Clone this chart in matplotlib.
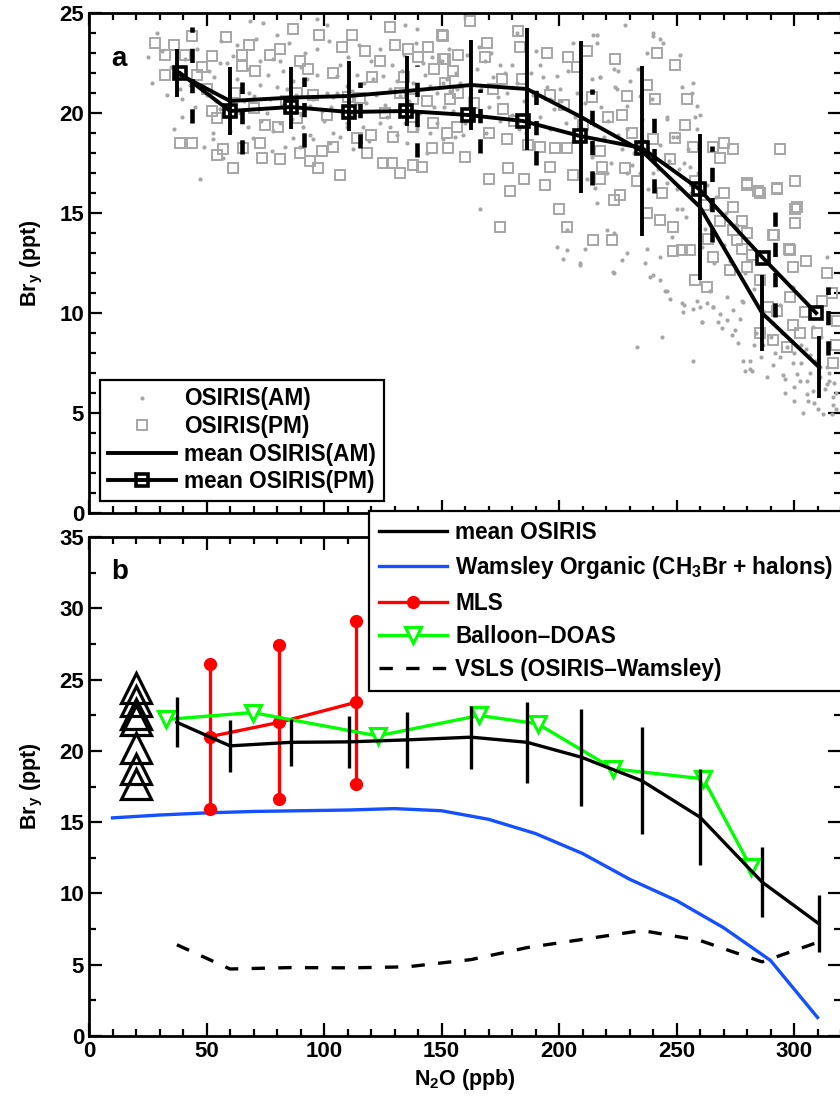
import numpy as np
import matplotlib
matplotlib.use('Agg')
import matplotlib.pyplot as plt
from matplotlib.ticker import MultipleLocator

plt.rcParams['font.family'] = ['Liberation Sans', 'DejaVu Sans']
plt.rcParams['font.weight'] = 'bold'
plt.rcParams['axes.labelweight'] = 'bold'
plt.rcParams['mathtext.fontset'] = 'custom'
plt.rcParams['mathtext.rm'] = 'Liberation Sans:bold'
plt.rcParams['mathtext.it'] = 'Liberation Sans:bold'
plt.rcParams['mathtext.bf'] = 'Liberation Sans:bold'

# ---------------- panel a : single OSIRIS profiles ----------------
am_x = [29.1, 68.5, 74.2, 79.9, 96.9, 101.1, 119.6, 134.5, 139.4, 39.4, 47.2, 52.9, 57.2, 70, 78.4, 81.3, 83.4, 87,
        96.9, 105.4, 109.6, 113.9, 125.2, 132.3, 138, 148, 152.2, 38.7, 48.7, 55.7, 62.8, 67.8, 72.8, 79.9, 84.1,
        95.5, 94.0, 101.1, 105.4, 109.6, 113.9, 121, 128.1, 130.9, 139.4, 145.1, 150.8, 153.6, 156.5, 43, 39.4,
        55.7, 59.3, 64.3, 67.8, 75.6, 78.4, 81.3, 86.2, 91.2, 95.5, 104, 109.6, 116.7, 123.8, 128.1, 134.5, 139.4,
        145.1, 150.8, 155.7, 52.9, 69.9, 89.8, 102.6, 112.5, 135.2, 143.7, 82.7, 92.6, 72.8, 61.4, 58.6,
        45, 50, 53, 66, 77, 88, 90, 99, 103, 107, 112, 118, 120, 126, 133, 137, 142, 147, 150, 155,
        158, 162, 165, 170, 172, 178, 185, 188, 192, 195, 198, 160, 175, 183, 166, 190, 166.4, 168.5, 175, 179.9,
        182, 192, 196.2, 199, 200.5, 206.1, 207.6, 209, 213.9, 216.1, 217.5, 223.2, 224.6, 228.8, 230.2, 234.5,
        235.2, 237.3, 240.2, 243, 245.9, 248.7, 251.5, 252.2, 257.2, 258.6, 260, 258.6, 253, 240.2, 234.5, 228.8,
        220.3, 211.8, 215.4, 216.1, 203.3, 211.1, 220.3, 223.2, 199, 203, 206, 210, 214, 219, 222, 227, 231, 234,
        238, 242, 246, 250, 254, 256, 248, 262, 266, 270, 203.2, 208.9, 223.1, 228.8, 236.6, 238.7, 243, 245.8,
        252.2, 257.1, 260.7, 265.7, 268.5, 271.3, 274.9, 278.4, 214.6, 216, 228.1, 240.1, 244.4, 217.4, 223.8,
        225.2, 233.7, 239.4, 245.8, 250, 256.4, 257.8, 250, 255.7, 252.2, 237.3, 243, 260.7, 264.2, 258.6, 272.7,
        277.7, 285.5, 294, 299.7, 308.2, 311.7, 313.9, 233, 243.7, 257.1, 278.4, 281.2, 288.4, 299.7, 306, 308.2,
        312.5, 316.7, 313.9, 302.5, 201.9, 209, 223.2, 226.7, 240.2, 245.1, 247.3, 253, 252.7, 260, 260.8, 262.9,
        265.7, 267.8, 269.3, 271.4, 273.5, 274.2, 277.1, 279.2, 282, 281.3, 291.2, 295.5, 296.2, 301.2, 305.4,
        308.3, 316.1, 314, 316.8, 305.4, 299.8, 284, 287, 290, 292, 294, 297, 300, 303, 305, 307, 309, 311, 313,
        315, 317, 318, 310, 304, 300, 296, 286, 283, 276,
        25, 27, 31, 33, 35, 36, 41, 44, 46, 49, 51, 54, 56, 60, 63, 65, 68, 71, 73, 76, 78, 82, 85, 87, 90, 92, 94,
        97, 100, 102, 104, 107, 110, 112, 115, 117, 119, 122, 124, 127, 129, 131, 134, 136, 139, 141, 143, 146,
        148, 151, 153, 156, 159, 161, 163, 167, 169, 171, 174, 177, 180, 182, 186, 189, 193, 196, 201, 204, 207,
        211, 215, 218, 221, 225, 229, 232, 236, 239, 243, 247, 251, 255, 259, 263, 267, 271, 275, 279, 283, 287,
        291, 295, 299, 303, 307, 311, 315, 318]
am_y = [24.0, 24.6, 24.5, 23.9, 24.7, 24.4, 25.0, 24.4, 24.2, 19.8, 16.7, 19.0, 17.75, 20.85, 22.7, 22.6, 18.3, 18.75,
        23.2, 21.85, 19.5, 21.9, 21.85, 20.85, 21.5, 21, 21.7, 21.2, 21.4, 22.5, 21.7, 22.2, 21.4, 21.3, 21.2,
        20.7, 20.35, 21.0, 21.0, 21.35, 20.5, 21.7, 21.2, 21.6, 21.3, 21.35, 21.5, 21.1, 21.2, 21.4, 20.7,
        20.2, 20.7, 20.0, 19.3, 20.0, 19.1, 19.5, 19.7, 19.3, 18.7, 19.0, 19.3, 19.3, 19.5, 19.3, 19.5, 19.2,
        19.0, 18.7, 18.8, 18.7, 18.75, 18.3, 18.5, 18.2, 18.5, 18.0, 22.1, 21.7, 22.6, 22.85, 22.5,
        20.3, 20.9, 21.8, 20.6, 20.7, 20.9, 22.3, 20.1, 20.3, 22.4, 21.1, 20.5, 22.6, 20.4, 22.1, 20.2, 22.5, 20.3, 22.6, 20.1,
        21.5, 20.8, 22.2, 20.3, 21.8, 21, 20.6, 22, 19.8, 21.3, 20.2, 19.5, 19.6, 19.2, 23.3, 23.1, 15.2, 22.6, 22.4, 22.4,
        24.0, 22.4, 20.7, 21.85, 21.2, 23.5, 21.0, 20.0, 21.7, 23.9, 21.8, 22.2, 21.2, 20.35, 21.6, 20.85,
        19.7, 23.0, 24.0, 23.7, 19.8, 18.8, 22.9, 21.3, 21.5, 20.35, 19.9, 19.2, 17.5, 17.0, 17.0, 17.0,
        17.0, 16.7, 16.25, 15.5, 14.15, 13.2, 14.15, 14, 13.3, 19.5, 18.6, 19.2, 17.8, 18.8, 17.5, 18.2, 17.4, 18.5,
        16.2, 17.2, 16.5, 15.2, 14.8, 16, 13.8, 14.2, 12.5, 13.4, 13.15, 12.5, 12.06, 13, 12.5, 11.8, 11.65, 11.1,
        10.5, 10.2, 9.55, 10.3, 9.97, 9.64, 9.13, 10.55, 23.9, 23.5, 24.4, 23.86, 23.5, 21.8, 21.3,
        22.1, 22.2, 20.7, 19.7, 18.8, 21, 19.8, 16.2, 17.3, 15.2, 13.2, 12.8, 13.3, 11.1, 10.6, 12.6,
        10.6, 10.3, 10.4, 11.3, 9.3, 8.8, 12.8, 8.3, 8.8, 7.6, 7.6, 7.2, 6.8, 7.5, 5.6, 6.1,
        4.95, 5.4, 7.3, 6.6, 12.7, 12.4, 12.0, 12.65, 11.9, 11.1, 10.7, 10.4, 10.05, 10.3, 9.55, 10.5,
        10.3, 9.55, 9.25, 10.8, 8.9, 10.14, 9.7, 7.1, 7.1, 7.6, 7.4, 6.9, 6.7, 6.96, 5.95,
        5.5, 4.95, 6.45, 5.8, 6.6, 6.3, 9.0, 8.4, 8.8, 8.0, 7.8, 8.3, 8.0, 7.5, 8.2, 7.0, 7.6, 6.8, 6.2,
        7.0, 6.5, 5.2, 5.2, 5.0, 5.6, 6.0, 7.8, 8.4, 8.5,
        22.8, 21.5, 23.1, 20.9, 22.3, 19.2, 22.7, 19.6, 23.2, 18.3, 22.1, 20.6, 23.6, 19.1, 23.4, 19.7, 21.0, 23.7,
        19.6, 21.9, 18.1, 20.4, 23.5, 21.6, 19.9, 23.0, 18.9, 21.9, 19.6, 23.6, 20.8, 18.8, 22.8, 19.9, 23.4, 21.5,
        18.6, 20.9, 23.2, 19.8, 22.4, 18.9, 22.9, 20.6, 23.5, 20.0, 21.9, 22.8, 19.5, 20.3, 23.2, 22.0, 18.9, 22.9,
        19.9, 21.2, 19.0, 23.0, 20.8, 22.0, 19.9, 21.5, 19.0, 20.9, 21.8, 19.2, 20.6, 22.1, 19.8, 20.5, 19.4, 20.3,
        19.6, 18.9, 19.2, 18.0, 18.6, 17.8, 18.4, 17.6, 17.2, 18.2, 17.0, 16.4, 15.8, 15.0, 14.4, 12.0, 11.2, 10.1,
        9.5, 9.0, 8.6, 8.4, 7.9, 7.3, 6.6, 6.0]

pm_x = [43.7, 58.2, 32.3, 40.9, 52.2, 65, 32.3, 45.8, 65, 70.6, 81.3, 86.7, 89.8, 107.5, 117.4, 123.8, 130.2, 135.9,
        144.4, 150.1, 151.5, 155, 52.2, 54.3, 70, 74.9, 80.6, 88.4, 95.5, 101.1, 88.4, 115.3, 120.3, 126, 132.3,
        138, 143.7, 146.5, 153.6, 156.5, 38.7, 43.7, 57.2, 54.3, 65.7, 61.4, 72.8, 73.5, 81.3, 89.8, 94, 97.6, 99,
        104, 106.8, 113.9, 118.2, 125.2, 128.8, 132.3, 138, 141.6, 145.8, 152.9, 129.5, 138,
        150.8, 150.8, 151.5, 152.2, 157.2, 162.2, 169.3, 168.5, 175.6, 182.7, 183.4, 184.2, 176.3, 177.8, 170,
        178.5, 179.2, 184.9, 175, 194.8, 194.1, 192, 196.2, 198.3, 203.3, 204, 207.6, 211.8, 213.9, 217.5, 218.2,
        217.5, 223.9, 228.8, 226.7, 231, 228.1, 237.3, 240.9, 241.6, 240.2, 237.3, 247.3, 249.4, 254.4, 253.7,
        249.4, 257.2, 243, 248.7, 255.8, 265.7, 270, 274.2, 268.6, 279.9, 285.6, 294.1, 292.7, 300.5, 300.5, 300.5,
        274.2, 277.8, 279.9, 291.3, 297.7, 214.6, 222.4, 203.3, 223.2, 199.8, 248.7, 252.2,
        313.9, 316, 304.7, 299.7, 302.5, 291.2, 296.9, 309.6, 316.7, 318.1, 285.5, 298.3, 292.6, 301.1, 292.6,
        284.8, 279.8, 294, 291.2, 298.3, 299.7, 274.2, 277.7, 272.7, 265.7, 263.5, 268.5, 275.6, 279.8, 285.5,
        257.9, 262.8, 289,
        28, 36, 48, 50, 62, 68, 77, 84, 93, 98, 104, 110, 112, 120, 128, 134, 140, 147, 157, 160, 164, 170, 172,
        181, 187, 196, 202, 206, 210, 221, 226, 233, 244, 258, 262, 270, 282, 305, 312, 318]
pm_y = [23.86, 23.8, 22.9, 22.9, 22.85, 22.9, 21.9, 21.9, 22.35, 22.1, 23.2, 24.2, 22.6, 23.3, 23.1, 22.6, 23.4, 23.2,
        23.3, 23.9, 22.7, 22.1, 20.1, 19.76, 20.26, 19.4, 19.3, 21.0, 20.9, 19.9, 19.76, 20.76, 21.8, 20, 21.0,
        20.7, 20.6, 19.5, 20.7, 19.3, 18.5, 18.5, 18.2, 17.9, 18.25, 17.25, 18.5, 17.75, 17.7, 18, 17.6, 17.25, 18.1,
        18.3, 16.9, 18.75, 18.0, 17.5, 17.5, 17.0, 17.4, 17.3, 18.25, 18.25, 18.8, 19.3,
        23.86, 22.7, 21.5, 19.0, 22.9, 24.6, 23.5, 22.8, 21.7, 24.1, 23.3, 21.7, 20.2, 18.7, 16.7,
        17.25, 16.1, 16.7, 14.3, 23.0, 16.4, 18.3, 17.3, 18.25, 18.25, 22.8, 22.3, 23.1, 20.8, 18.1, 17.3,
        16.7, 22.7, 20.85, 19.9, 19.0, 17.25, 21.4, 20.7, 23.0, 18.7, 15.0, 17.7, 22.4, 20.7, 19.4,
        18.75, 18.3, 14.65, 14.3, 13.15, 18.3, 18.5, 18.2, 17.75, 16.4, 16.0, 18.2, 16.2, 16.6, 15.2, 14.5,
        15.3, 14.6, 14.0, 13.9, 13.2, 13.65, 13.65, 14.3, 15.65, 15.2, 13.1, 13.15,
        12.0, 11.0, 10.05, 9.4, 9.0, 8.63, 8.3, 9.0, 7.5, 9.6, 9.0, 10.8, 10.1, 15.3, 16.25,
        16.1, 16.5, 18.2, 13.9, 13.15, 12.3, 14.15, 13.2, 12.15, 12.8, 13.7, 14.6, 13.65, 12.3, 11.65,
        11.65, 11.3, 10.3,
        23.5, 23.4, 22.3, 21.2, 21.0, 23.4, 22.9, 20.6, 22.2, 23.9, 22.0, 20.8, 23.9, 18.9, 24.3, 21.8, 22.8, 22.2,
        21.0, 17.8, 20.5, 19.0, 21.2, 19.6, 18.4, 20.9, 20.4, 16.9, 19.4, 19.8, 15.9, 16.6, 16.0, 16.6, 15.4, 16.0,
        12.9, 12.6, 10.6, 8.4]

am_mean_x = [37.4, 60, 86, 110.6, 135.3, 162.6, 186.4, 209.4, 235.3, 260, 286.4, 310.6]
am_mean_y = [22.0, 20.6, 20.77, 20.85, 21.1, 21.4, 21.2, 19.8, 18.1, 15.3, 10.0, 7.3]
am_err = [1.2, 1.7, 1.55, 1.75, 1.75, 2.25, 3.05, 3.8, 4.25, 3.65, 1.9, 1.55]

pm_mean_x = [38.7, 60, 86, 110.6, 134.9, 161.3, 184.7, 208.9, 235.3, 259.6, 286.8, 309.4]
pm_mean_y = [22.0, 20.1, 20.3, 20.05, 20.1, 19.9, 19.6, 18.85, 18.25, 16.2, 12.75, 10.0]
pm_bar_x = [43.8, 65.1, 91.5, 115.3, 139.6, 166.4, 190.2, 214, 240.4, 265.1, 291.9, 314.5]
pm_bar_mid = [21.9, 19.75, 20.05, 19.9, 20.1, 19.6, 19.6, 18.8, 18.2, 15.95, 12.75, 9.6]
pm_err = [2.4, 1.8, 1.75, 1.65, 2.3, 1.6, 2.2, 2.4, 2.2, 2.4, 2.95, 1.7]

# ---------------- panel b ----------------
osiris_x = [37.4, 60, 86, 110.6, 135.3, 162.6, 186.4, 209.4, 235.3, 260, 286.4, 310.6]
osiris_y = [22.0, 20.35, 20.6, 20.63, 20.77, 20.96, 20.6, 19.56, 17.9, 15.35, 10.8, 7.87]
osiris_err = [1.75, 1.8, 1.65, 1.8, 1.95, 2.2, 2.85, 3.4, 3.75, 3.35, 2.45, 2.0]

wams_x = [10, 30, 50, 70, 90, 110, 130, 150, 170, 190, 210, 230, 250, 270, 290, 310]
wams_y = [15.3, 15.5, 15.65, 15.75, 15.8, 15.85, 15.95, 15.8, 15.2, 14.2, 12.8, 11.0, 9.5, 7.6, 5.3, 1.3]

mls_x = [51.5, 81, 113.5]
mls_y = [21.0, 22.0, 23.4]
mls_err = [5.1, 5.4, 5.7]

doas_x = [32.8, 69.6, 122.8, 166.1, 190.9, 223.1, 261.4, 281.6]
doas_y = [22.2, 22.69, 21.05, 22.48, 21.9, 18.74, 18.04, 11.85]

vsls_x = [37.4, 60, 86, 110.6, 135.3, 162.6, 186.4, 209.4, 235.3, 260, 286.4, 310.6]
vsls_y = [6.4, 4.7, 4.8, 4.78, 4.85, 5.36, 6.2, 6.76, 7.4, 6.7, 5.2, 6.6]

tri_x = [20, 20, 20, 20, 20, 20, 20]
tri_y = [24.44, 23.5, 22.57, 22.15, 20.23, 18.7, 17.66]

W, H = 840, 1103
fig = plt.figure(figsize=(W / 100, H / 100), dpi=100)
axa = fig.add_axes([89 / W, 1 - 513 / H, 752 / W, 500 / H])
axb = fig.add_axes([89 / W, 1 - 1036 / H, 752 / W, 499 / H])

grey = '#a6a6a6'
lw = 2.4
lwa = 2.8
fs_leg = 16.3

# panel a
l1, = axa.plot(am_x, am_y, 'o', color=grey, ms=3, mec='none', label='OSIRIS(AM)')
l2, = axa.plot(pm_x, pm_y, 's', mfc='none', mec=grey, ms=7.5, mew=1.4, label='OSIRIS(PM)')
eb = axa.errorbar(am_mean_x, am_mean_y, yerr=am_err, color='k', lw=lwa, elinewidth=lwa, capsize=0)
l3 = eb[0]
l3.set_label('mean OSIRIS(AM)')
ebd = axa.errorbar(pm_bar_x, pm_bar_mid, yerr=pm_err, fmt='none', ecolor='k', elinewidth=3.3, capsize=0)
ebd[2][0].set_linestyle((0, (3.1, 3.5)))
l4, = axa.plot(pm_mean_x, pm_mean_y, 's-', color='k', mfc='none', ms=8.5, mew=2.6, lw=lwa,
               label='mean OSIRIS(PM)')

axa.set_xlim(0, 320)
axa.set_ylim(0, 25)
axa.xaxis.set_major_locator(MultipleLocator(50))
axa.xaxis.set_minor_locator(MultipleLocator(10))
axa.yaxis.set_major_locator(MultipleLocator(5))
axa.yaxis.set_minor_locator(MultipleLocator(1))
axa.set_xticklabels([])
axa.set_ylabel(r'Br$_\mathregular{y}$ (ppt)', fontsize=15.5, labelpad=10)
axa.text(0.03, 0.895, 'a', transform=axa.transAxes, fontsize=20, fontweight='bold')
lega = axa.legend(handles=[l1, l2, l3, l4], loc='lower left', bbox_to_anchor=(100 / W, 1 - 501 / H),
                  bbox_transform=fig.transFigure, fontsize=fs_leg, numpoints=1, handlelength=3.0,
                  labelspacing=0.2, borderaxespad=0, borderpad=0.35, handletextpad=0.35,
                  fancybox=False, framealpha=1, edgecolor='k')
lega.get_frame().set_linewidth(1.6)

# panel b
ebo = axb.errorbar(osiris_x, osiris_y, yerr=osiris_err, color='k', lw=lw, elinewidth=lw, capsize=0, zorder=4)
ebo[0].set_label('mean OSIRIS')
lw_, = axb.plot(wams_x, wams_y, color='#1450ff', lw=lw, label='Wamsley Organic (CH$_3$Br + halons)')
mls_lo = [y - e for y, e in zip(mls_y, mls_err)]
mls_hi = [y + e for y, e in zip(mls_y, mls_err)]
axb.vlines(mls_x, mls_lo, mls_hi, color='r', lw=lw)
axb.plot(mls_x, mls_lo, 'o', color='r', ms=8.5)
axb.plot(mls_x, mls_hi, 'o', color='r', ms=8.5)
lm, = axb.plot(mls_x, mls_y, 'o-', color='r', lw=lw, ms=8.5, label='MLS')
ld, = axb.plot(doas_x, doas_y, 'v-', color='#00ff00', lw=lw, ms=11, mfc='white', mew=2.2,
               label='Balloon\u2013DOAS')
lv, = axb.plot(vsls_x, vsls_y, '--', color='k', lw=lw, dashes=(4, 4), label='VSLS (OSIRIS\u2013Wamsley)')
axb.plot(tri_x, tri_y, '^', mfc='none', mec='k', ms=22, mew=2.3)

axb.set_xlim(0, 320)
axb.set_ylim(0, 35)
axb.xaxis.set_major_locator(MultipleLocator(50))
axb.xaxis.set_minor_locator(MultipleLocator(10))
axb.yaxis.set_major_locator(MultipleLocator(5))
axb.yaxis.set_minor_locator(MultipleLocator(2.5))
axb.set_xlabel(r'N$_\mathregular{2}$O (ppb)', fontsize=15.5, labelpad=4)
axb.set_ylabel(r'Br$_\mathregular{y}$ (ppt)', fontsize=15.5, labelpad=10)
axb.text(0.03, 0.915, 'b', transform=axb.transAxes, fontsize=20, fontweight='bold')
legb = axb.legend(handles=[ebo[0], lw_, lm, ld, lv], loc='upper left', bbox_to_anchor=(369 / W, 1 - 511 / H),
                  bbox_transform=fig.transFigure, fontsize=fs_leg, numpoints=1, handlelength=3.0,
                  labelspacing=0.45, borderaxespad=0, borderpad=0.45, handletextpad=0.35,
                  fancybox=False, framealpha=1, edgecolor='k')
legb.get_frame().set_linewidth(1.6)
legb.set_zorder(10)

for ax in (axa, axb):
    ax.tick_params(which='both', direction='in', top=True, right=True, width=1.6, labelsize=16)
    ax.tick_params(which='major', length=9.5)
    ax.tick_params(which='minor', length=5)
    for s in ax.spines.values():
        s.set_linewidth(2)

fig.savefig('out.png', dpi=100)
